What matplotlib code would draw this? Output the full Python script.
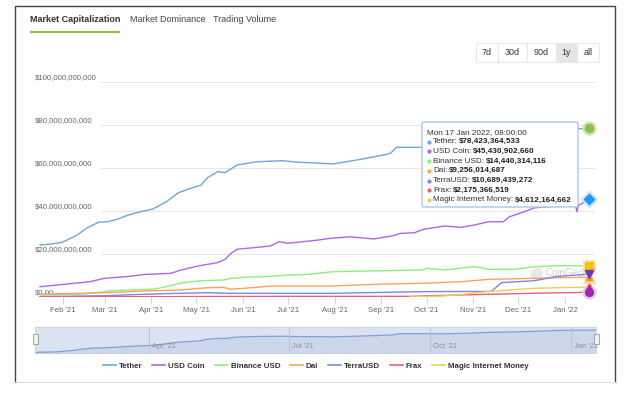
import matplotlib

matplotlib.use('Agg')
import matplotlib.pyplot as plt
import matplotlib.dates as mdates
import matplotlib.transforms as mtransforms
from matplotlib.patches import FancyBboxPatch, Rectangle, Circle
from matplotlib.lines import Line2D
import numpy as np

plt.rcParams['font.family'] = ['Liberation Sans', 'DejaVu Sans']

# market caps in billions USD
tether_dates = ['2021-01-17', '2021-01-24', '2021-02-01', '2021-02-10', '2021-02-17', '2021-02-25',
                '2021-03-03', '2021-03-10', '2021-03-16', '2021-03-25', '2021-04-02', '2021-04-11',
                '2021-04-19', '2021-04-27', '2021-05-04', '2021-05-08', '2021-05-15', '2021-05-20',
                '2021-05-28', '2021-06-10', '2021-06-27', '2021-07-07', '2021-07-20', '2021-07-31',
                '2021-08-18', '2021-09-02', '2021-09-07', '2021-09-11', '2021-09-28', '2021-10-10',
                '2021-10-25', '2021-11-05', '2021-11-20', '2021-12-01', '2021-12-15', '2021-12-28',
                '2022-01-10', '2022-01-17']
tether = [24.2, 24.6, 25.5, 28.5, 32.0, 34.8, 35.0, 36.3, 38.0, 39.7, 40.9, 44.3, 48.5, 50.5, 52.0,
          55.3, 58.3, 57.8, 61.4, 62.9, 63.4, 62.7, 62.3, 61.9, 64.0, 66.0, 66.8, 69.6, 69.6, 69.4,
          70.5, 72.5, 73.5, 74.5, 76.5, 78.0, 78.2, 78.42]

usdc_dates = ['2021-01-17', '2021-02-02', '2021-02-19', '2021-03-01', '2021-03-16', '2021-03-28',
              '2021-04-14', '2021-04-21', '2021-05-02', '2021-05-15', '2021-05-20', '2021-05-24',
              '2021-05-28', '2021-06-06', '2021-06-19', '2021-06-25', '2021-07-01', '2021-07-21',
              '2021-07-29', '2021-08-11', '2021-08-27', '2021-09-08', '2021-09-14', '2021-09-23',
              '2021-09-29', '2021-10-13', '2021-10-24', '2021-11-02', '2021-11-11', '2021-11-21',
              '2021-11-25', '2021-12-03', '2021-12-12', '2021-12-26', '2022-01-04', '2022-01-08',
              '2022-01-09', '2022-01-10', '2022-01-17']
usdc = [4.8, 5.9, 7.1, 8.7, 9.5, 10.5, 11.0, 12.6, 14.4, 16.0, 17.5, 20.3, 22.2, 22.8, 23.7, 25.7,
        25.0, 26.5, 27.3, 28.0, 27.0, 28.4, 29.6, 29.9, 31.5, 33.0, 32.4, 33.5, 35.0, 35.0, 37.3,
        39.2, 41.5, 42.3, 42.8, 42.5, 39.7, 42.6, 45.43]

busd_dates = ['2021-01-17', '2021-02-15', '2021-03-01', '2021-03-03', '2021-04-02', '2021-04-11',
              '2021-04-22', '2021-05-05', '2021-05-19', '2021-05-24', '2021-06-03', '2021-06-15',
              '2021-07-01', '2021-07-14', '2021-07-31', '2021-09-02', '2021-09-29', '2021-10-01',
              '2021-10-13', '2021-11-02', '2021-11-11', '2021-11-29', '2021-12-12', '2021-12-28',
              '2022-01-17']
busd = [1.0, 1.4, 2.4, 2.9, 3.6, 4.8, 6.7, 7.6, 7.9, 8.7, 9.2, 9.5, 10.2, 10.5, 11.8, 12.2, 12.6,
        13.4, 12.6, 14.1, 12.9, 12.9, 14.1, 14.6, 14.44]

dai_dates = ['2021-01-17', '2021-03-01', '2021-04-02', '2021-04-21', '2021-05-08', '2021-05-19',
             '2021-05-24', '2021-06-10', '2021-06-19', '2021-07-29', '2021-09-02', '2021-09-29',
             '2021-10-24', '2021-11-11', '2021-12-12', '2022-01-17']
dai = [1.3, 2.0, 2.9, 3.3, 4.3, 4.5, 3.6, 4.5, 5.1, 5.1, 6.0, 6.4, 7.1, 8.2, 8.7, 9.26]

ust_dates = ['2021-01-17', '2021-03-01', '2021-04-02', '2021-05-08', '2021-05-24', '2021-07-29',
             '2021-09-29', '2021-11-13', '2021-11-20', '2021-12-12', '2021-12-26', '2022-01-17']
ust = [0.2, 0.6, 1.4, 2.0, 1.7, 1.7, 2.5, 2.6, 6.7, 7.6, 9.5, 10.69]

frax_dates = ['2021-01-17', '2021-04-01', '2021-07-01', '2021-09-20', '2021-10-15', '2021-11-15',
              '2021-12-15', '2022-01-17']
frax = [0.1, 0.15, 0.3, 0.3, 0.8, 1.3, 1.8, 2.18]

mim_dates = ['2021-09-20', '2021-10-10', '2021-10-25', '2021-11-10', '2021-11-20', '2021-12-10',
             '2021-12-30', '2022-01-17']
mim = [0.05, 0.4, 1.2, 2.5, 3.0, 4.0, 4.4, 4.61]

names = ['Tether', 'USD Coin', 'Binance USD', 'Dai', 'TerraUSD', 'Frax', 'Magic Internet Money']
colors = ['#6fa6dd', '#b066e0', '#90ed7d', '#f7a35c', '#7e86e6', '#f15c80', '#e4d354']
series = [(tether_dates, tether), (usdc_dates, usdc), (busd_dates, busd), (dai_dates, dai),
          (ust_dates, ust), (frax_dates, frax), (mim_dates, mim)]
tooltip_values = ['$78,423,364,533', '$45,430,902,660', '$14,440,314,116', '$9,256,014,687',
                  '$10,689,439,272', '$2,175,366,519', '$4,612,164,662']

y_ticks = [0, 20, 40, 60, 80, 100]
y_labels = ['$0.00', '$20,000,000,000', '$40,000,000,000', '$60,000,000,000',
            '$80,000,000,000', '$100,000,000,000']

W, H = 625, 398
fig = plt.figure(figsize=(6.25, 3.98), dpi=100)


def box(x0, y0, x1, y1):
    return [x0 / W, 1 - y1 / H, (x1 - x0) / W, (y1 - y0) / H]


bg = fig.add_axes([0, 0, 1, 1], zorder=0)
bg.set_xlim(0, W)
bg.set_ylim(H, 0)
bg.axis('off')

# frame
bg.plot([15, 15, 615, 615], [382, 6, 6, 382], color='#444', lw=1)
bg.plot([15, 615], [382, 382], color='#ddd', lw=0.8)

# tabs
bg.text(30, 20, 'Market Capitalization', fontsize=6.5, weight='bold', color='#333', va='center')
bg.plot([30, 120], [31.5, 31.5], color='#8dc63f', lw=1.5, solid_capstyle='butt')
bg.text(130, 20, 'Market Dominance', fontsize=6.5, color='#444', va='center')
bg.text(213, 20, 'Trading Volume', fontsize=6.5, color='#444', va='center')

# range buttons
btns = [('7d', 476, 498), ('30d', 498, 527), ('90d', 527, 556), ('1y', 556, 577), ('all', 577, 599)]
for lab, x0, x1 in btns:
    fc = '#e6e6e6' if lab == '1y' else 'white'
    bg.add_patch(Rectangle((x0, 42.5), x1 - x0, 19.5, fc=fc, ec='#e8e8e8', lw=0.8))
    bg.text((x0 + x1) / 2, 52.5, lab, fontsize=6.5, color='#333', ha='center', va='center')

# watermark
bg.add_patch(Circle((537, 274), 6, fc='#e8e8e8', ec='none'))
bg.text(546, 273, 'CoinGecko', fontsize=7, color='#d0d0d0', va='center')

# main chart
ax = fig.add_axes(box(38, 82, 595, 297), zorder=2)
ax.set_facecolor('none')
for s in ax.spines.values():
    s.set_visible(False)

d0 = mdates.date2num(np.datetime64('2021-01-17'))
d1 = mdates.date2num(np.datetime64('2022-01-17'))
ax.set_xlim(d0 - 1.33, d1 + 4.0)
ax.set_ylim(0, 100)
ax.set_yticks([])

lab_tr = mtransforms.offset_copy(ax.get_yaxis_transform(), fig=fig, x=0, y=4, units='dots')
for v, lab in zip(y_ticks, y_labels):
    ax.axhline(v, xmin=(101 - 38) / 557, color='#e6e6e6', lw=0.8, zorder=0.5)
    ax.text(-3 / 557, v, lab, transform=lab_tr, fontsize=5.6, color='#666', va='center', ha='left',
            zorder=1)

for (dts, vals), c, n in zip(series, colors, names):
    ax.plot(np.array(dts, dtype='datetime64[D]'), vals, color=c, lw=1.0, label=n, zorder=3)

ax.xaxis.set_major_locator(mdates.MonthLocator())
ax.xaxis.set_major_formatter(mdates.DateFormatter("%b '%y"))
ax.tick_params(axis='x', length=5, color='#ccd6eb', labelsize=5.6, labelcolor='#666', pad=2)

# hover markers at last point
end = np.datetime64('2022-01-17')
marks = [(tether[-1], 'o', '#8bc34a', '#cfe6b4', 5.8),
         (usdc[-1], 'D', '#2196f3', '#c6e2fb', 4.8),
         (busd[-1], 's', '#ffc107', '#ffe9a8', 5.6),
         (dai[-1], '^', '#ff9800', '#ffd9a8', 5.0),
         (ust[-1], 'v', '#673ab7', '#d6c8ee', 5.6),
         (mim[-1], '^', '#e91e63', '#f8c4d6', 5.0),
         (frax[-1], 'o', '#9c27b0', '#e6c2ee', 5.6)]
for v, m, c, halo, ms in marks:
    ax.plot([end], [v], marker=m, ms=ms + 3.5, color=halo, ls='none', clip_on=False, zorder=4)
    ax.plot([end], [v], marker=m, ms=ms, color=c, ls='none', clip_on=False, zorder=5)

# navigator
nav = fig.add_axes(box(35, 327, 596, 353), zorder=2)
nav.set_facecolor('#dbe2f0')
nav.set_xlim(d0, d1)
nav.set_ylim(22.5, 86)
td = np.array(tether_dates, dtype='datetime64[D]')
nav.fill_between(td, tether, 0, color='#cdd7ec', lw=0)
nav.plot(td, tether, color='#7f9fd8', lw=0.9)
for dt, lab in [('2021-04-01', "Apr '21"), ('2021-07-01', "Jul '21"), ('2021-10-01', "Oct '21"),
                ('2022-01-01', "Jan '22")]:
    x = mdates.date2num(np.datetime64(dt))
    nav.axvline(x, color='#b9c3da', lw=0.8)
    nav.text(x + 2, 0.12, lab, transform=nav.get_xaxis_transform(), fontsize=5.5, color='#8a8f9a',
             va='bottom', ha='left')
nav.set_xticks([])
nav.set_yticks([])
for s in nav.spines.values():
    s.set_color('#c8cfdf')
    s.set_linewidth(0.6)

# legend
handles = [Line2D([], [], color=c, lw=1.2) for c in colors]
leg = fig.legend(handles, names, loc='center', bbox_to_anchor=(316 / W, 1 - 366 / H), ncol=7,
                 frameon=False, prop={'weight': 'bold', 'size': 5.7}, handlelength=1.6,
                 handletextpad=0.4, columnspacing=1.25)
for t in leg.get_texts():
    t.set_color('#333')

# tooltip overlay
top = fig.add_axes([0, 0, 1, 1], zorder=5)
top.set_xlim(0, W)
top.set_ylim(H, 0)
top.axis('off')
for x in (35, 596):
    top.add_patch(Rectangle((x - 2.5, 334), 5, 10, fc='#f2f2f2', ec='#999', lw=0.6))

top.add_patch(FancyBboxPatch((422, 122), 156, 85, boxstyle='round,pad=0,rounding_size=2',
                             fc='white', ec='#a9c7e8', lw=1))
top.text(427, 132.3, 'Mon 17 Jan 2022, 08:00:00', fontsize=5.9, color='#333', va='center')
fig.canvas.draw()
renderer = fig.canvas.get_renderer()
for i, (n, c, val) in enumerate(zip(names, colors, tooltip_values)):
    y = 141.7 + 9.7 * i
    top.plot(429, y, 'o', ms=2, color=c)
    t = top.text(433, y, n + ':', fontsize=5.9, color='#333', va='center')
    ext = t.get_window_extent(renderer)
    top.text(ext.x1 + 1.5, y, val, fontsize=5.9, color='#222', weight='bold', va='center')

fig.savefig('out.png', dpi=100, facecolor='white')
